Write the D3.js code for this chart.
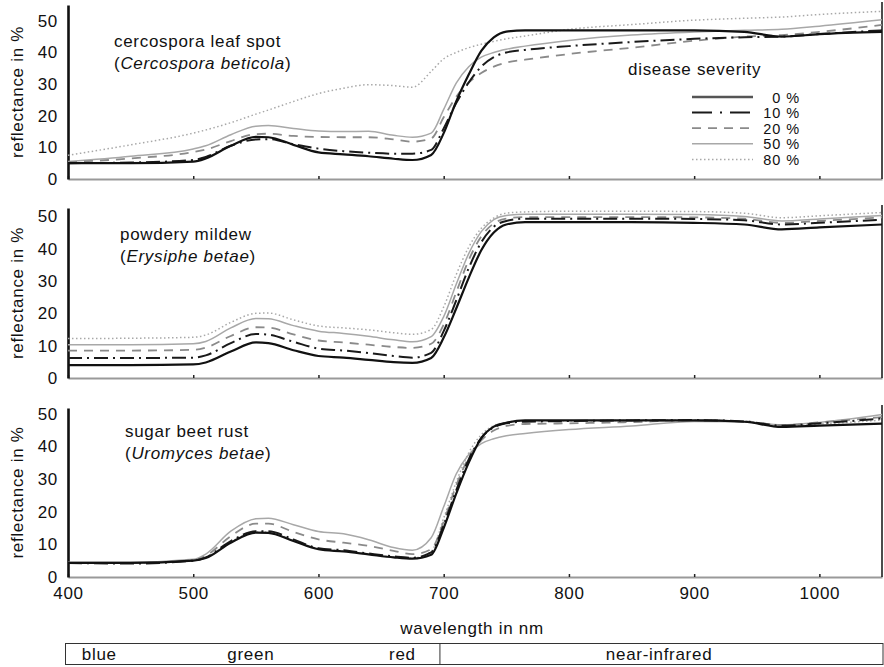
<!DOCTYPE html>
<html>
<head>
<meta charset="utf-8">
<script src="https://cdn.jsdelivr.net/npm/d3@7"></script>
<style>
  body { margin: 0; background: #fff; }
  svg text { font-family: "Liberation Sans", Arial, sans-serif; font-size: 17px; letter-spacing: 0.7px; fill: #111; }
</style>
</head>
<body>
<svg id="chart" width="884" height="667"></svg>
<script>
// wavelengths (nm) the curves were read at
let wavelengths = [400, 450, 500, 510, 530, 550, 560, 580, 600, 620, 640, 660, 675, 690,
                   700, 710, 720, 730, 740, 750, 765, 800, 850, 900, 940, 970, 1000, 1050];

let severities = ["0 %", "10 %", "20 %", "50 %", "80 %"];
let yTicks = [0, 10, 20, 30, 40, 50];
let xTicks = [400, 500, 600, 700, 800, 900, 1000];
let bandNames = ["blue", "green", "red", "near-infrared"];

// cercospora leaf spot
let cercospora0  = [5.0, 5.0, 5.5, 6.5, 10.5, 13.3, 13.2, 10.8, 8.4, 7.8, 7.2, 6.4, 6.0, 7.6, 14.5, 24.5, 33.0, 40.5, 44.8, 46.6, 47.0, 47.0, 47.0, 47.0, 46.5, 45.0, 45.8, 46.5];
let cercospora10 = [5.0, 5.2, 6.0, 7.0, 10.5, 12.5, 12.6, 11.0, 9.6, 8.8, 8.3, 8.0, 8.0, 9.2, 16.0, 24.0, 30.5, 35.5, 38.5, 40.0, 40.8, 42.0, 43.3, 44.3, 44.8, 45.0, 45.8, 47.0];
let cercospora20 = [5.3, 6.5, 8.5, 9.3, 12.0, 14.2, 14.3, 13.6, 13.3, 13.2, 13.2, 12.5, 11.8, 12.8, 19.5, 26.0, 30.5, 33.5, 35.5, 36.8, 37.7, 39.5, 41.5, 43.7, 45.0, 45.5, 46.5, 48.7];
let cercospora50 = [5.5, 7.2, 9.5, 10.5, 14.0, 16.7, 16.9, 16.0, 15.2, 15.0, 15.1, 13.8, 13.2, 14.5, 22.0, 30.3, 35.5, 38.5, 40.0, 41.0, 42.0, 43.8, 45.5, 46.5, 47.0, 47.3, 48.3, 50.3];
let cercospora80 = [7.5, 10.8, 14.5, 15.5, 17.8, 20.5, 21.8, 24.5, 27.0, 28.7, 29.8, 29.5, 29.0, 34.0, 38.0, 40.0, 41.5, 42.6, 43.5, 44.3, 45.2, 47.3, 48.8, 50.2, 50.8, 51.2, 52.0, 53.0];

// powdery mildew
let mildew0  = [4.0, 4.0, 4.2, 4.8, 8.2, 11.0, 10.8, 8.6, 6.8, 6.3, 5.6, 4.9, 4.7, 6.2, 12.5, 21.5, 31.0, 39.5, 45.0, 47.5, 48.2, 48.2, 48.2, 48.0, 47.5, 46.0, 46.6, 47.5];
let mildew10 = [6.2, 6.2, 6.3, 7.0, 10.8, 13.6, 13.4, 11.2, 9.1, 8.5, 7.7, 6.8, 6.3, 7.8, 14.5, 24.0, 34.0, 42.0, 46.8, 48.6, 49.3, 49.3, 49.3, 49.2, 48.8, 47.5, 48.0, 49.0];
let mildew20 = [8.5, 8.5, 8.7, 9.4, 13.0, 15.7, 15.6, 13.5, 11.6, 11.0, 10.3, 9.6, 9.3, 10.6, 16.5, 26.5, 36.5, 43.8, 47.8, 49.3, 49.8, 49.8, 49.8, 49.7, 49.3, 48.0, 48.6, 49.7];
let mildew50 = [10.3, 10.3, 10.6, 11.3, 15.5, 18.4, 18.3, 16.2, 14.5, 13.8, 12.9, 11.8, 11.2, 12.8, 19.0, 29.0, 38.5, 45.3, 49.0, 50.3, 50.7, 50.7, 50.7, 50.6, 50.0, 48.6, 49.2, 50.3];
let mildew80 = [12.2, 12.3, 12.6, 13.3, 17.2, 20.0, 20.1, 18.0, 16.1, 15.5, 14.9, 14.0, 13.5, 15.0, 22.0, 32.0, 40.5, 46.3, 49.5, 51.0, 51.4, 51.6, 51.6, 51.5, 51.0, 49.6, 50.2, 51.2];

// sugar beet rust
let rust0  = [4.3, 4.3, 5.0, 5.8, 10.5, 13.6, 13.5, 11.0, 8.5, 7.8, 6.9, 6.0, 5.6, 6.8, 15.0, 25.5, 35.0, 42.5, 46.0, 47.2, 47.9, 47.9, 47.9, 47.9, 47.5, 45.9, 46.3, 46.9];
let rust10 = [4.3, 4.1, 5.0, 6.0, 11.0, 14.0, 14.0, 11.5, 8.8, 8.2, 7.2, 6.3, 5.9, 7.5, 16.0, 26.5, 36.0, 42.5, 45.8, 47.0, 47.5, 47.7, 47.9, 48.0, 47.6, 46.3, 47.0, 48.5];
let rust20 = [4.3, 4.3, 5.2, 6.5, 12.5, 16.3, 16.3, 13.8, 11.5, 10.5, 9.5, 8.0, 7.0, 8.5, 17.0, 28.0, 36.5, 41.8, 44.8, 46.2, 46.8, 47.0, 47.4, 47.9, 47.6, 46.5, 47.3, 48.9];
let rust50 = [4.5, 4.5, 5.4, 7.0, 14.0, 17.8, 18.0, 16.0, 13.9, 13.2, 11.4, 9.0, 8.2, 12.0, 21.5, 31.5, 37.5, 40.8, 42.3, 43.2, 43.9, 45.1, 46.2, 47.6, 47.5, 46.5, 47.3, 49.7];
let rust80 = [4.3, 4.3, 5.0, 5.9, 10.8, 13.8, 13.8, 11.2, 8.6, 8.0, 7.0, 6.1, 5.8, 7.8, 18.0, 29.0, 38.0, 43.5, 46.3, 47.3, 47.8, 47.8, 47.9, 48.0, 47.6, 46.3, 46.8, 48.0];

let panels = [
    { title: "cercospora leaf spot", latin: "Cercospora beticola",
      series: [cercospora0, cercospora10, cercospora20, cercospora50, cercospora80] },
    { title: "powdery mildew", latin: "Erysiphe betae",
      series: [mildew0, mildew10, mildew20, mildew50, mildew80] },
    { title: "sugar beet rust", latin: "Uromyces betae",
      series: [rust0, rust10, rust20, rust50, rust80] }
];

// layout + styles
let xr1 = 68;
let xr2 = 882;
let layout = [
    { top: 5,   bottom: 179, yMax: 55,   tx: 114, ty: 47 },
    { top: 208, bottom: 378, yMax: 52.6, tx: 120, ty: 240 },
    { top: 408, bottom: 577, yMax: 51.7, tx: 125, ty: 437 }
];
let lineStyles = [
    { color: "#111", width: 2.2, dash: null },
    { color: "#1a1a1a", width: 2.0, dash: "14,5,2,5" },
    { color: "#8a8a8a", width: 1.8, dash: "9,7" },
    { color: "#a8a8a8", width: 1.5, dash: null },
    { color: "#a8a8a8", width: 1.5, dash: "1.5,2.5" }
];
let bandCenters = [425, 546, 667, 872];
let bandSplit = 697;

let svg = d3.select("#chart");

let xScale = d3.scaleLinear()
    .domain([400, 1050])
    .range([xr1, xr2]);

panels.forEach((panel, p) => {
    let L = layout[p];
    let yScale = d3.scaleLinear()
        .domain([0, L.yMax])
        .range([L.bottom, L.top]);

    let g = svg.append("g");

    // x axis (grey line, little dark ticks)
    let xAxis = d3.axisBottom(xScale)
        .tickValues(xTicks)
        .tickSize(-3)
        .tickSizeOuter(0)
        .tickPadding(10)
        .tickFormat(p === 2 ? d3.format("d") : "");
    let xg = g.append("g")
        .attr("transform", "translate(0," + L.bottom + ")")
        .call(xAxis);
    xg.select(".domain").attr("stroke", "#999").attr("stroke-width", 2);
    xg.selectAll(".tick line").attr("stroke", "#222").attr("stroke-width", 1.5);
    xg.selectAll("text").attr("font-size", null).attr("font-family", null).attr("fill", "#111");

    // right border
    g.append("line")
        .attr("x1", xr2).attr("x2", xr2)
        .attr("y1", L.top - 3).attr("y2", L.bottom)
        .attr("stroke", "#111").attr("stroke-width", 1.5);

    // y axis
    let yAxis = d3.axisLeft(yScale)
        .tickValues(yTicks)
        .tickSize(0)
        .tickPadding(10);
    let yg = g.append("g")
        .attr("transform", "translate(" + xr1 + ",0)")
        .call(yAxis);
    yg.select(".domain").attr("stroke", "#111").attr("stroke-width", 2.6);
    yg.selectAll("text").attr("font-size", null).attr("font-family", null).attr("fill", "#111");

    g.append("text")
        .attr("transform", "translate(23," + ((L.top + L.bottom) / 2) + ") rotate(-90)")
        .attr("text-anchor", "middle")
        .text("reflectance in %");

    // curves, lightest first so the dark ones sit on top
    let line = d3.line()
        .x((d, i) => xScale(wavelengths[i]))
        .y(d => yScale(d))
        .curve(d3.curveMonotoneX);

    let order = [4, 3, 2, 1, 0];
    order.forEach(s => {
        let st = lineStyles[s];
        g.append("path")
            .datum(panel.series[s])
            .attr("d", line)
            .attr("fill", "none")
            .attr("stroke", st.color)
            .attr("stroke-width", st.width)
            .attr("stroke-dasharray", st.dash)
            .attr("stroke-linejoin", "round");
    });

    // panel title
    g.append("text")
        .attr("x", L.tx).attr("y", L.ty)
        .text(panel.title);
    let t2 = g.append("text")
        .attr("x", L.tx).attr("y", L.ty + 22);
    t2.append("tspan").text("(");
    t2.append("tspan").attr("font-style", "italic").text(panel.latin);
    t2.append("tspan").text(")");
});

// legend
let legend = svg.append("g");
legend.append("text")
    .attr("x", 628).attr("y", 75)
    .text("disease severity");
severities.forEach((s, i) => {
    let st = lineStyles[i];
    let y = 97 + i * 15.6;
    legend.append("line")
        .attr("x1", 692).attr("x2", 753)
        .attr("y1", y).attr("y2", y)
        .attr("stroke", i === 0 ? "#555" : st.color)
        .attr("stroke-width", i === 0 ? 2.6 : st.width)
        .attr("stroke-dasharray", i === 1 ? "20,8,2,8" : st.dash);
    legend.append("text")
        .attr("x", 800).attr("y", y + 5.5)
        .attr("text-anchor", "end")
        .style("font-size", "14.5px")
        .style("letter-spacing", "0.9px")
        .text(s);
});

// x label and colour band
svg.append("text")
    .attr("x", 472).attr("y", 634)
    .attr("text-anchor", "middle")
    .text("wavelength in nm");

let band = svg.append("g");
band.append("rect")
    .attr("x", 65.5).attr("y", 643.5)
    .attr("width", xr2 + 1 - 65.5).attr("height", 21)
    .attr("fill", "none")
    .attr("stroke", "#333").attr("stroke-width", 1);
band.append("line")
    .attr("x1", xScale(bandSplit)).attr("x2", xScale(bandSplit))
    .attr("y1", 643.5).attr("y2", 664.5)
    .attr("stroke", "#333").attr("stroke-width", 1);
bandNames.forEach((b, i) => {
    band.append("text")
        .attr("x", xScale(bandCenters[i])).attr("y", 660)
        .attr("text-anchor", "middle")
        .text(b);
});
</script>
</body>
</html>
